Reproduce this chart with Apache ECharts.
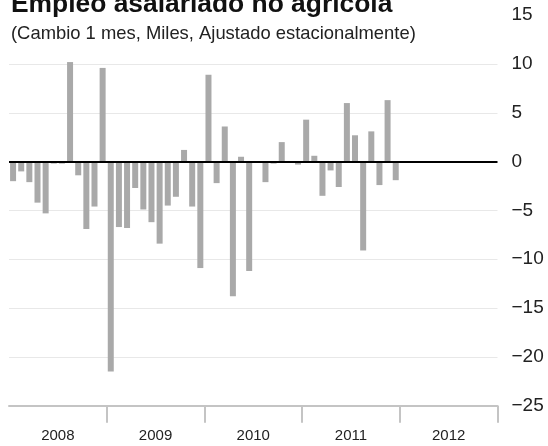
<!DOCTYPE html>
<html><head><meta charset="utf-8">
<script src="https://cdn.jsdelivr.net/npm/echarts@6/dist/echarts.min.js"></script>
<style>html,body{margin:0;padding:0;background:#fff}#c{width:548px;height:446px}</style>
</head><body><div id="c"></div>
<script>
const years = ['2008', '2009', '2010', '2011', '2012'];
const monthNames = ['01','02','03','04','05','06','07','08','09','10','11','12'];
const months = [];
years.forEach(y => monthNames.forEach(m => months.push(y + '-' + m)));

// Monthly change, thousands (Jan 2008 - Dec 2011)
const values2008 = [-2.0, -1.0, -2.1, -4.2, -5.3, -0.2, -0.2, 10.2, -1.4, -6.9, -4.6, 9.6];
const values2009 = [-21.5, -6.7, -6.8, -2.7, -4.9, -6.2, -8.4, -4.5, -3.6, 1.2, -4.6, -10.9];
const values2010 = [8.9, -2.2, 3.6, -13.8, 0.5, -11.2, 0, -2.1, -0.2, 2.0, 0, -0.3];
const values2011 = [4.3, 0.6, -3.5, -0.9, -2.6, 6.0, 2.7, -9.1, 3.1, -2.4, 6.3, -1.9];
const values = [].concat(values2008, values2009, values2010, values2011);

const yTicks = [-25, -20, -15, -10, -5, 0, 5, 10, 15];

const chart = echarts.init(document.getElementById('c'), null, {renderer: 'canvas'});
chart.setOption({
  animation: false,
  textStyle: {fontFamily: 'Liberation Sans, Arial, sans-serif'},
  title: [
    {text: 'Empleo asalariado no agrícola', left: 6, top: -13,
     textStyle: {fontSize: 26.4, fontWeight: 'bold', color: '#111', fontFamily: 'Liberation Sans'}},
    {text: '(Cambio 1 mes, Miles, Ajustado estacionalmente)', left: 6, top: 20,
     textStyle: {fontSize: 18.4, fontWeight: 'normal', color: '#222', fontFamily: 'Liberation Sans'}}
  ],
  grid: {left: 9, right: 50.5, top: 15.2, bottom: 40.3, containLabel: false, outerBoundsMode: 'none'},
  xAxis: [
    {type: 'category', data: months, boundaryGap: true, show: false},
    {type: 'category', data: years, boundaryGap: true, position: 'bottom',
     axisLine: {show: true, lineStyle: {color: '#c4c4c4', width: 2}},
     axisTick: {show: true, length: 17, lineStyle: {color: '#c4c4c4', width: 2},
                interval: function (i) { return i !== 0; }},
     axisLabel: {fontSize: 15, color: '#222', margin: 23},
     splitLine: {show: false}}
  ],
  yAxis: {
    type: 'value', position: 'right', min: yTicks[0], max: yTicks[yTicks.length - 1], interval: 5,
    axisLine: {show: false}, axisTick: {show: false},
    axisLabel: {fontSize: 19, color: '#222', margin: 14,
                formatter: v => String(v).replace('-', '\u2212')},
    splitLine: {show: true, lineStyle: {width: 1,
      color: ['rgba(0,0,0,0)', '#e8e8e8', '#e8e8e8', '#e8e8e8', '#e8e8e8', 'rgba(0,0,0,0)', '#e8e8e8', '#e8e8e8', 'rgba(0,0,0,0)']}}
  },
  series: [{
    type: 'bar', xAxisIndex: 0, data: values, barWidth: 6,
    itemStyle: {color: '#a9a9a9'},
    markLine: {silent: true, symbol: 'none', label: {show: false},
      lineStyle: {color: '#000', width: 2, type: 'solid'},
      data: [{yAxis: 0}]}
  }]
});
</script></body></html>
